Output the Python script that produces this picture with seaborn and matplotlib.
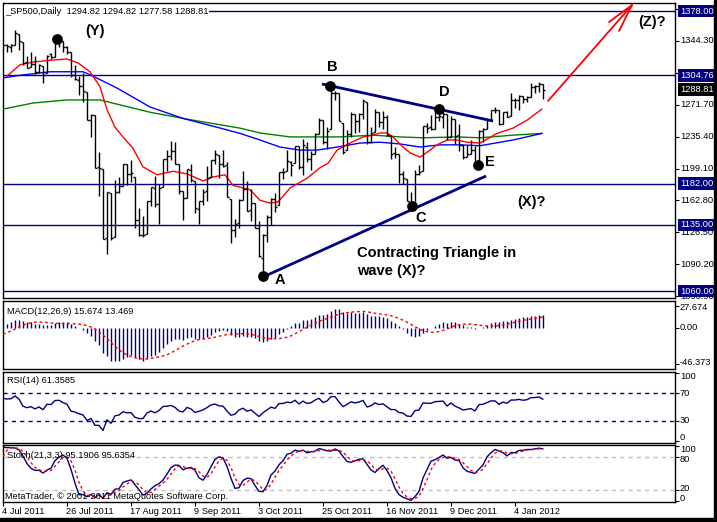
import numpy as np
import pandas as pd
import matplotlib
matplotlib.use("Agg")
import matplotlib.pyplot as plt
import matplotlib.transforms as mtransforms
from matplotlib.patches import Rectangle
import seaborn as sns

# ---------------- data ----------------
tick_labels = ["4 Jul 2011", "26 Jul 2011", "17 Aug 2011", "9 Sep 2011", "3 Oct 2011",
               "25 Oct 2011", "16 Nov 2011", "9 Dec 2011", "4 Jan 2012"]
tick_bars = [0, 16, 32, 48, 64, 80, 96, 112, 128]

opens = [1339.67, 1339.59, 1337.56, 1339.62, 1352.39, 1343.31, 1319.61, 1314.45, 1317.74, 1308.87,
         1315.94, 1307.07, 1328.66, 1325.65, 1343.80, 1344.32, 1337.39, 1331.91, 1304.84, 1300.12,
         1292.59, 1286.56, 1254.25, 1260.23, 1200.28, 1198.48, 1120.23, 1171.77, 1121.30, 1172.87,
         1178.86, 1204.22, 1192.89, 1189.62, 1140.47, 1123.55, 1124.36, 1162.16, 1176.69, 1158.85,
         1177.91, 1209.76, 1213.00, 1219.12, 1203.90, 1173.97, 1165.85, 1197.98, 1185.37, 1153.50,
         1162.59, 1173.32, 1189.44, 1209.21, 1214.99, 1204.50, 1203.63, 1164.55, 1128.82, 1136.91,
         1163.32, 1175.39, 1151.74, 1159.93, 1131.21, 1097.42, 1124.03, 1144.11, 1165.03, 1158.15,
         1194.60, 1196.19, 1206.96, 1205.65, 1224.47, 1200.75, 1223.46, 1209.92, 1215.39, 1238.72,
         1254.19, 1229.17, 1243.97, 1284.39, 1284.96, 1251.00, 1219.62, 1238.25, 1260.82, 1253.21,
         1261.12, 1275.18, 1229.59, 1240.12, 1263.85, 1251.70, 1257.81, 1236.56, 1216.19, 1215.62,
         1192.98, 1187.48, 1161.41, 1158.67, 1192.56, 1196.72, 1246.91, 1246.03, 1244.33, 1257.19,
         1258.14, 1260.87, 1234.48, 1255.05, 1236.83, 1225.73, 1212.12, 1216.09, 1219.74, 1205.72,
         1241.25, 1243.72, 1254.00, 1265.02, 1265.38, 1249.75, 1262.82, 1258.86, 1277.03, 1277.30,
         1280.93, 1277.83, 1280.77, 1292.02, 1292.48, 1294.82]
highs = [1339.67, 1340.89, 1340.94, 1356.48, 1352.39, 1343.31, 1327.17, 1331.48, 1326.88, 1317.70,
         1315.94, 1328.14, 1330.43, 1347.00, 1346.10, 1344.32, 1338.51, 1331.91, 1316.32, 1304.16,
         1307.38, 1286.56, 1261.20, 1260.23, 1218.11, 1198.48, 1172.88, 1171.77, 1186.29, 1189.04,
         1204.49, 1204.22, 1208.47, 1189.62, 1154.54, 1145.49, 1162.35, 1178.56, 1190.68, 1181.23,
         1210.28, 1220.10, 1230.71, 1229.29, 1203.90, 1173.97, 1198.62, 1204.40, 1185.37, 1162.52,
         1176.41, 1202.38, 1209.11, 1220.06, 1214.99, 1220.39, 1206.30, 1164.55, 1141.72, 1164.19,
         1195.86, 1184.71, 1175.87, 1159.93, 1138.99, 1125.12, 1146.07, 1165.55, 1171.40, 1194.91,
         1199.24, 1220.25, 1207.46, 1224.61, 1224.47, 1233.10, 1229.64, 1219.53, 1239.03, 1256.55,
         1254.19, 1246.28, 1292.66, 1287.08, 1284.96, 1251.00, 1242.48, 1263.21, 1260.82, 1261.70,
         1277.55, 1275.18, 1246.22, 1266.98, 1263.85, 1264.25, 1259.61, 1237.73, 1223.51, 1215.62,
         1196.81, 1187.48, 1172.66, 1197.35, 1203.67, 1247.11, 1251.09, 1260.08, 1266.73, 1266.03,
         1267.06, 1260.87, 1258.25, 1255.05, 1249.86, 1225.73, 1225.60, 1231.04, 1224.57, 1242.82,
         1245.09, 1255.22, 1265.42, 1269.37, 1265.85, 1263.54, 1264.12, 1284.62, 1278.73, 1283.05,
         1281.84, 1281.99, 1296.46, 1293.80, 1296.82, 1294.82]
lows = [1339.67, 1330.92, 1330.92, 1339.62, 1333.71, 1316.42, 1313.33, 1314.45, 1306.51, 1307.35,
        1295.92, 1307.07, 1323.65, 1325.65, 1336.95, 1331.09, 1329.59, 1303.49, 1299.16, 1282.86,
        1274.73, 1254.03, 1234.56, 1199.54, 1168.09, 1119.28, 1101.54, 1118.01, 1121.30, 1170.74,
        1178.86, 1180.53, 1184.36, 1131.03, 1122.05, 1121.09, 1124.36, 1156.30, 1155.47, 1135.91,
        1177.91, 1195.77, 1209.35, 1203.85, 1170.56, 1140.13, 1165.85, 1183.34, 1148.37, 1136.07,
        1157.44, 1162.73, 1189.44, 1204.46, 1188.36, 1201.19, 1166.41, 1114.22, 1121.36, 1131.07,
        1163.32, 1150.40, 1139.93, 1131.34, 1098.92, 1074.77, 1115.68, 1134.95, 1150.26, 1158.15,
        1187.30, 1196.19, 1190.58, 1205.65, 1198.55, 1191.48, 1206.31, 1197.34, 1215.39, 1238.72,
        1226.79, 1221.06, 1243.97, 1277.01, 1253.16, 1215.42, 1219.62, 1234.81, 1238.92, 1240.75,
        1254.99, 1226.64, 1227.70, 1240.12, 1246.68, 1244.34, 1235.67, 1209.43, 1211.36, 1183.16,
        1181.65, 1161.79, 1158.66, 1158.67, 1191.80, 1196.72, 1239.73, 1243.35, 1244.33, 1253.03,
        1244.80, 1231.47, 1234.48, 1227.25, 1219.43, 1209.47, 1212.12, 1215.20, 1202.37, 1205.72,
        1229.51, 1243.72, 1254.00, 1262.30, 1248.64, 1249.75, 1257.46, 1258.86, 1268.10, 1265.26,
        1273.34, 1274.55, 1280.77, 1285.41, 1285.77, 1277.58]
closes = [1339.67, 1337.88, 1339.22, 1353.22, 1343.80, 1319.49, 1313.64, 1317.72, 1308.87, 1316.14,
          1305.44, 1326.73, 1325.84, 1343.80, 1345.02, 1337.43, 1331.94, 1304.89, 1300.67, 1292.28,
          1286.94, 1254.05, 1260.34, 1200.07, 1199.38, 1119.46, 1172.53, 1120.76, 1172.64, 1178.81,
          1204.49, 1192.76, 1193.89, 1140.65, 1123.53, 1123.82, 1162.35, 1177.60, 1159.27, 1176.80,
          1210.08, 1212.92, 1218.89, 1204.42, 1173.97, 1165.24, 1198.62, 1185.90, 1154.23, 1162.27,
          1172.87, 1188.68, 1209.11, 1216.01, 1204.09, 1202.09, 1166.76, 1129.56, 1136.43, 1162.95,
          1175.38, 1151.06, 1160.40, 1131.42, 1099.23, 1123.95, 1144.03, 1164.97, 1155.46, 1194.89,
          1195.54, 1207.25, 1203.66, 1224.58, 1200.86, 1225.38, 1209.88, 1215.39, 1238.25, 1254.19,
          1229.05, 1242.00, 1284.59, 1285.09, 1253.30, 1218.28, 1237.90, 1261.15, 1253.23, 1261.12,
          1275.92, 1229.10, 1239.69, 1263.85, 1251.78, 1257.81, 1236.91, 1216.13, 1215.65, 1192.98,
          1188.04, 1161.79, 1158.67, 1192.55, 1195.19, 1246.96, 1244.58, 1244.28, 1257.08, 1258.47,
          1261.01, 1234.35, 1255.19, 1236.47, 1225.73, 1211.82, 1215.75, 1219.66, 1205.35, 1241.30,
          1243.72, 1254.00, 1265.33, 1265.43, 1249.64, 1263.02, 1257.60, 1277.06, 1277.30, 1281.06,
          1277.81, 1280.70, 1292.08, 1292.48, 1295.50, 1288.81]

# history before the first visible bar (indicator warm-up)
prior_close = [1361.22, 1356.62, 1347.32, 1335.10, 1340.20, 1346.29, 1357.16, 1342.08, 1348.65, 1337.77,
               1329.47, 1328.98, 1340.68, 1343.60, 1333.27, 1317.37, 1316.28, 1320.47, 1325.69, 1331.10,
               1345.20, 1314.55, 1312.94, 1300.16, 1286.17, 1284.94, 1279.56, 1289.00, 1270.98, 1271.83,
               1287.87, 1265.42, 1267.64, 1271.50, 1278.36, 1295.52, 1287.14, 1283.50, 1268.45, 1280.10,
               1296.67, 1307.41, 1320.64, 1339.67]
prior_high = [1345.20, 1318.03, 1312.94, 1300.16, 1296.22, 1287.04, 1295.43, 1289.00, 1277.30, 1292.50,
              1287.87, 1274.11, 1286.79, 1280.42, 1297.62, 1298.61, 1286.58, 1283.93, 1284.91, 1299.99,
              1309.21, 1321.97, 1341.01]
prior_low = [1313.71, 1305.61, 1297.90, 1284.65, 1284.74, 1277.42, 1279.56, 1268.53, 1265.64, 1272.22,
             1261.90, 1258.07, 1267.64, 1267.56, 1277.96, 1286.79, 1262.87, 1267.24, 1267.53, 1280.21,
             1296.67, 1307.61, 1318.18]

# moving averages (bar position, value)
ma_red_x = [1, 4.25, 7.5, 11.75, 16, 18.75, 21.75, 24.25, 26, 28, 30, 32.5, 35, 38.5, 42.5, 46, 50, 52.5,
            55.5, 57.5, 59.25, 61.75, 64.25, 66.75, 68.75, 71.75, 76, 79.25, 81.25, 83.5, 86.75, 90, 92.5,
            94.25, 96, 97.5, 100, 101.75, 104.25, 106.75, 108.5, 111, 113.5, 116, 119.25, 123.5, 127.5,
            131, 134.75]
ma_red_y = [1304, 1317, 1320, 1322, 1323.5, 1319, 1309, 1292, 1266, 1246, 1235, 1222, 1201, 1192, 1196,
            1193, 1185, 1189.5, 1192, 1180, 1178, 1175, 1163, 1160, 1161, 1177, 1188, 1200, 1205, 1220,
            1228, 1235, 1237, 1239.5, 1239.5, 1235, 1223.5, 1217, 1212, 1220, 1226, 1231.5, 1231.5, 1229,
            1228, 1239, 1245, 1254, 1266.6]
ma_blue_x = [0, 4.25, 11.75, 20, 22.5, 28.5, 36.75, 45, 53.5, 59.25, 64.25, 69.25, 74.25, 78.5, 84.25,
             89.25, 94.25, 99.25, 104.25, 109.25, 114.25, 119.25, 127.5, 134.75]
ma_blue_y = [1302, 1305, 1309, 1309, 1304, 1290.5, 1269, 1256, 1246, 1239, 1231.5, 1223.5, 1220, 1220,
             1224, 1228, 1229, 1227, 1223.5, 1226, 1226, 1225, 1231.5, 1239]
ma_green_x = [0, 7.5, 16, 24.25, 36.75, 47.5, 59.25, 64.25, 71.75, 84.25, 92.5, 99.25, 105, 113.5,
              119.25, 127.5, 134.75]
ma_green_y = [1266.6, 1273.5, 1277, 1277, 1263, 1254, 1245, 1239.5, 1235, 1235, 1237, 1235, 1234, 1235,
              1234, 1237, 1239]

levels = [1378.00, 1304.76, 1182.00, 1135.00, 1060.00]
price_ticks = [1053.90, 1090.20, 1126.50, 1162.80, 1199.10, 1235.40, 1271.70, 1308.00, 1344.30, 1380.60]
price_tick_labels = ["1053.90", "1090.20", "1126.50", "1162.80", "1199.10", "1235.40", "1271.70",
                     "", "1344.30", ""]
last_price = 1288.81

# wave points
dot_x = [13.5, 81.75, 109, 102.25, 65, 118.75]
dot_y = [1346.2, 1292.8, 1266.7, 1156.5, 1077.0, 1203.0]
upper_line_x = [79.75, 122.5]
upper_line_y = [1295.1, 1253.1]
lower_line_x = [65, 120.75]
lower_line_y = [1075.9, 1190.6]
arrow_x = [136.25, 157.25]
arrow_y = [1275.8, 1384.8]
arrow_head_x = [151.5, 154.0]
arrow_head_y = [1365.5, 1355.3]

# ---------------- indicators ----------------
n = len(closes)
x = np.arange(n)
c_all = pd.Series(prior_close + closes)
ema12 = c_all.ewm(span=12, adjust=False).mean()
ema26 = c_all.ewm(span=26, adjust=False).mean()
macd_all = ema12 - ema26
sig_all = macd_all.rolling(9).mean()
macd = macd_all.iloc[-n:].to_numpy()
macd_sig = sig_all.iloc[-n:].to_numpy()

d = c_all.diff()
up = d.clip(lower=0).ewm(alpha=1 / 14, adjust=False).mean()
dn = (-d.clip(upper=0)).ewm(alpha=1 / 14, adjust=False).mean()
rsi = (100 - 100 / (1 + up / dn)).iloc[-n:].to_numpy()

h_all = pd.Series(prior_high + highs)
l_all = pd.Series(prior_low + lows)
c_st = pd.Series(prior_close[-len(prior_high):] + closes)
hh = h_all.rolling(21, min_periods=1).max()
ll = l_all.rolling(21, min_periods=1).min()
num = (c_st - ll).rolling(3, min_periods=1).sum()
den = (hh - ll).rolling(3, min_periods=1).sum()
k_all = 100 * num / den
d_all = k_all.rolling(3, min_periods=1).mean()
st_k = k_all.iloc[-n:].to_numpy()
st_d = d_all.iloc[-n:].to_numpy()

# ---------------- figure ----------------
sns.set_theme(style="white")
plt.rcParams["font.family"] = ["Liberation Sans", "DejaVu Sans"]

W, H = 717, 522
fig = plt.figure(figsize=(W / 100, H / 100), dpi=100)
fig.patch.set_facecolor("white")


def rect(x0, y0, x1, y1):
    return [x0 / W, 1 - y1 / H, (x1 - x0) / W, (y1 - y0) / H]


ax = fig.add_axes(rect(3, 3, 675, 298))
ax_m = fig.add_axes(rect(3, 301, 675, 369))
ax_r = fig.add_axes(rect(3, 372, 675, 443))
ax_s = fig.add_axes(rect(3, 445, 675, 502))

NAVY = "#000080"
SMALL = 6.7

for a in (ax, ax_m, ax_r, ax_s):
    a.set_facecolor("white")
    a.set_xlim(0, 168)
    for sp in a.spines.values():
        sp.set_color("black")
        sp.set_linewidth(1.0)
    a.set_xticks([])
    a.yaxis.tick_right()
    a.tick_params(axis="y", which="both", right=True, left=False, length=3, width=0.8,
                  color="black", direction="out", labelright=False, labelleft=False)
    a.grid(False)


def rlabel(a, val, s, dy=0, color="black", **kw):
    tr = mtransforms.blended_transform_factory(a.transAxes, a.transData)
    tr = tr + mtransforms.ScaledTranslation(5 / 100, dy / 100, fig.dpi_scale_trans)
    a.text(1.0, val, s, transform=tr, ha="left", va="center", fontsize=SMALL,
           color=color, clip_on=False, **kw)


# ---- main price panel ----
ax.set_ylim(1052.05, 1387.1)
ax.set_yticks(price_ticks)
for v, lab in zip(price_ticks, price_tick_labels):
    if lab:
        rlabel(ax, v, lab)
for v in levels:
    ax.axhline(v, color=NAVY, lw=1.0, zorder=1)
    rlabel(ax, v, f"{v:.2f}", color="white", zorder=20,
           bbox=dict(boxstyle="square,pad=0.18", fc=NAVY, ec="none"))
rlabel(ax, last_price, f"{last_price:.2f}", color="white", zorder=21,
       bbox=dict(boxstyle="square,pad=0.18", fc="black", ec="none"))

sns.lineplot(x=ma_green_x, y=ma_green_y, ax=ax, color="#008000", lw=1.0, zorder=3)
sns.lineplot(x=ma_blue_x, y=ma_blue_y, ax=ax, color="#0000FF", lw=1.0, zorder=3)
sns.lineplot(x=ma_red_x, y=ma_red_y, ax=ax, color="#FF0000", lw=1.0, zorder=3)

ax.vlines(x, lows, highs, color="black", lw=1.0, zorder=4)
ax.hlines(opens, x - 0.45, x, color="black", lw=1.0, zorder=4)
ax.hlines(closes, x, x + 0.45, color="black", lw=1.0, zorder=4)

ax.plot(upper_line_x, upper_line_y, color=NAVY, lw=2.0, zorder=5, solid_capstyle="butt")
ax.plot(lower_line_x, lower_line_y, color=NAVY, lw=2.0, zorder=5, solid_capstyle="butt")
ax.scatter(dot_x, dot_y, s=60, color="black", zorder=6, linewidths=0)

ax.plot(arrow_x, arrow_y, color="#FF0000", lw=1.3, zorder=5)
for hx, hy in zip(arrow_head_x, arrow_head_y):
    ax.plot([hx, arrow_x[1]], [hy, arrow_y[1]], color="#FF0000", lw=1.3, zorder=5)

bold = dict(fontweight="bold", color="black", zorder=7, fontsize=10.5)
ax.text(23, 1355.3, "(Y)", ha="center", va="center", **bold)
ax.text(82.25, 1314.4, "B", ha="center", va="center", **bold)
ax.text(110.25, 1286.0, "D", ha="center", va="center", **bold)
ax.text(121.75, 1206.5, "E", ha="center", va="center", **bold)
ax.text(104.5, 1142.9, "C", ha="center", va="center", **bold)
ax.text(69.25, 1072.5, "A", ha="center", va="center", **bold)
ax.text(132.25, 1161.1, "(X)?", ha="center", va="center", **bold)
ax.text(162.25, 1365.5, "(Z)?", ha="center", va="center", **bold)
ax.text(88.5, 1103.2, "Contracting Triangle in", ha="left", va="center", **bold)
ax.text(88.5, 1082.7, "wave (X)?", ha="left", va="center", **bold)

fig.text(5 / W, 1 - 11 / H, "_SP500,Daily  1294.82 1294.82 1277.58 1288.81", ha="left",
         va="center", fontsize=SMALL, color="black", zorder=30,
         bbox=dict(boxstyle="square,pad=0.1", fc="white", ec="none"))

# ---- MACD panel ----
ax_m.set_ylim(-52.5, 33.9)
ax_m.set_yticks([27.674, 0.0, -46.373])
rlabel(ax_m, 27.674, "27.674", dy=-2)
rlabel(ax_m, 0.0, "0.00")
rlabel(ax_m, -46.373, "-46.373", dy=2)
ax_m.vlines(x, 0, macd, color=NAVY, lw=1.0, zorder=3)
sns.lineplot(x=x, y=macd_sig, ax=ax_m, color="#FF0000", lw=1.0, zorder=4, linestyle=(0, (2, 2)))
ax_m.text(4 / 672, 0.85, "MACD(12,26,9) 15.674 13.469", transform=ax_m.transAxes,
          ha="left", va="center", fontsize=SMALL, color="black")

# ---- RSI panel ----
ax_r.set_ylim(-2.3, 101)
ax_r.set_yticks([100, 70, 30, 0])
rlabel(ax_r, 100, "100", dy=-4)
rlabel(ax_r, 70, "70")
rlabel(ax_r, 30, "30")
rlabel(ax_r, 0, "0", dy=4)
for v in (70, 30):
    ax_r.axhline(v, color=NAVY, lw=1.0, linestyle=(0, (3, 3)), zorder=2)
sns.lineplot(x=x, y=rsi, ax=ax_r, color=NAVY, lw=1.0, zorder=3)
ax_r.text(4 / 672, 0.88, "RSI(14) 61.3585", transform=ax_r.transAxes, ha="left", va="center",
          fontsize=SMALL, color="black")

# ---- Stochastic panel ----
ax_s.set_ylim(-1.3, 102.4)
ax_s.set_yticks([100, 80, 20, 0])
rlabel(ax_s, 100, "100", dy=-3)
rlabel(ax_s, 80, "80", dy=-2)
rlabel(ax_s, 20, "20", dy=2)
rlabel(ax_s, 0, "0", dy=3)
for v in (80, 20):
    ax_s.axhline(v, color="#C0C0C0", lw=1.0, linestyle=(0, (3, 3)), zorder=2)
sns.lineplot(x=x, y=st_k, ax=ax_s, color=NAVY, lw=1.0, zorder=3)
sns.lineplot(x=x, y=st_d, ax=ax_s, color="#FF0000", lw=1.0, zorder=4, linestyle=(0, (2, 2)))
ax_s.text(4 / 672, 0.81, "Stoch(21,3,3) 95.1906 95.6354", transform=ax_s.transAxes, ha="left",
          va="center", fontsize=SMALL, color="black", zorder=6)
ax_s.text(2 / 672, 0.09, "MetaTrader, \u00a9 2001-2011 MetaQuotes Software Corp.",
          transform=ax_s.transAxes, ha="left", va="center", fontsize=SMALL, color="black", zorder=6)

ax_s.set_xticks(tick_bars)
ax_s.tick_params(axis="x", bottom=True, length=3, width=0.8, color="black", direction="out",
                 labelbottom=False)
trx = mtransforms.blended_transform_factory(ax_s.transData, ax_s.transAxes)
trx = trx + mtransforms.ScaledTranslation(-1 / 100, -9 / 100, fig.dpi_scale_trans)
for b, lab in zip(tick_bars, tick_labels):
    ax_s.text(b, 0, lab, transform=trx, ha="left", va="center", fontsize=SMALL, color="black",
              clip_on=False)

for a in (ax, ax_m, ax_r, ax_s):
    a.set_xlabel("")
    a.set_ylabel("")
    leg = a.get_legend()
    if leg:
        leg.remove()

# screenshot frame
fig.patches.append(Rectangle((714 / W, 0), 3 / W, 1, transform=fig.transFigure,
                             color="black", zorder=50))
fig.patches.append(Rectangle((0, 0), 1, 4 / H, transform=fig.transFigure,
                             color="black", zorder=50))

fig.savefig("out.png", dpi=100, facecolor="white")
